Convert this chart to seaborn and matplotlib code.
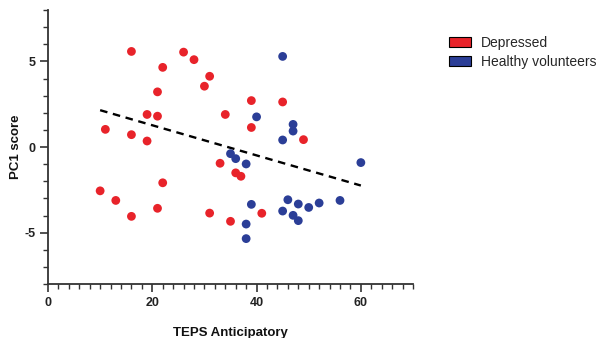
import matplotlib
matplotlib.use("Agg")
import matplotlib.pyplot as plt
import seaborn as sns
import pandas as pd
import numpy as np
from matplotlib.patches import Patch
from matplotlib.ticker import MultipleLocator

# Data
dep_x = [16, 26, 28, 22, 31, 30, 21, 19, 21, 11, 16, 19, 33, 39, 45, 34, 39, 49,
         36, 37, 31, 35, 41, 10, 13, 16, 21, 22]
dep_y = [5.58, 5.54, 5.10, 4.65, 4.13, 3.55, 3.22, 1.90, 1.80, 1.03, 0.72, 0.35, -0.95,
         2.71, 2.63, 1.90, 1.14, 0.43, -1.51, -1.71, -3.86, -4.34, -3.87, -2.56, -3.12,
         -4.05, -3.58, -2.09]
hv_x = [45, 40, 47, 47, 45, 35, 36, 38, 60, 39, 38, 38, 46, 48, 45, 47, 48, 50, 52, 56]
hv_y = [5.29, 1.76, 1.32, 0.93, 0.41, -0.39, -0.68, -0.99, -0.91, -3.35, -4.50, -5.35,
        -3.08, -3.33, -3.74, -3.99, -4.30, -3.53, -3.27, -3.12]
# Trend line as shown in the figure (endpoints)
trend_x = [10, 60]
trend_y = [2.15, -2.25]
groups = ["Depressed", "Healthy volunteers"]
colors = ["#E8232A", "#2B3E97"]

df = pd.DataFrame({
    "TEPS Anticipatory": dep_x + hv_x,
    "PC1 score": dep_y + hv_y,
    "Group": [groups[0]] * len(dep_x) + [groups[1]] * len(hv_x),
})
trend = pd.DataFrame({"x": trend_x, "y": trend_y})

sns.set_style("ticks")
plt.rcParams['font.family'] = ['Liberation Sans', 'DejaVu Sans']
plt.rcParams['axes.unicode_minus'] = False

fig = plt.figure(figsize=(6.03, 3.38), dpi=100)
ax = fig.add_axes([48 / 603, 1 - 284 / 338, 365 / 603, 274 / 338])

sns.scatterplot(data=df, x="TEPS Anticipatory", y="PC1 score", hue="Group",
                palette=dict(zip(groups, colors)), s=40, edgecolor="none",
                legend=False, ax=ax, zorder=3)
sns.lineplot(data=trend, x="x", y="y", ax=ax, color="black",
             linestyle=(0, (3.2, 2.4)), linewidth=1.7, zorder=2)

ax.set_xlim(0, 70)
ax.set_ylim(-8, 8)
ax.xaxis.set_major_locator(MultipleLocator(20))
ax.xaxis.set_minor_locator(MultipleLocator(2))
ax.yaxis.set_major_locator(MultipleLocator(5))
ax.yaxis.set_minor_locator(MultipleLocator(1))
ax.tick_params(which="major", length=6, width=1.2, color="#333333", labelsize=9,
               pad=3, labelcolor="#222222")
ax.tick_params(which="minor", length=3.5, width=1.0, color="#333333")
for lbl in ax.get_xticklabels() + ax.get_yticklabels():
    lbl.set_fontweight("bold")
for side in ["left", "bottom"]:
    ax.spines[side].set_linewidth(1.3)
    ax.spines[side].set_color("#333333")
sns.despine(ax=ax)

ax.set_xlabel("TEPS Anticipatory", fontsize=9.5, fontweight="bold", labelpad=13,
              color="#111111")
ax.set_ylabel("PC1 score", fontsize=9.5, fontweight="bold", labelpad=2,
              color="#111111")

handles = [Patch(facecolor=c, edgecolor="black", linewidth=0.8, label=g)
           for g, c in zip(groups, colors)]
fig.legend(handles=handles, loc="upper left", bbox_to_anchor=(443 / 603, 1 - 30 / 338),
           frameon=False, fontsize=10, handlelength=1.6, handleheight=0.7,
           handletextpad=0.75, labelspacing=0.4, borderaxespad=0)

fig.savefig("out.png", dpi=100)
